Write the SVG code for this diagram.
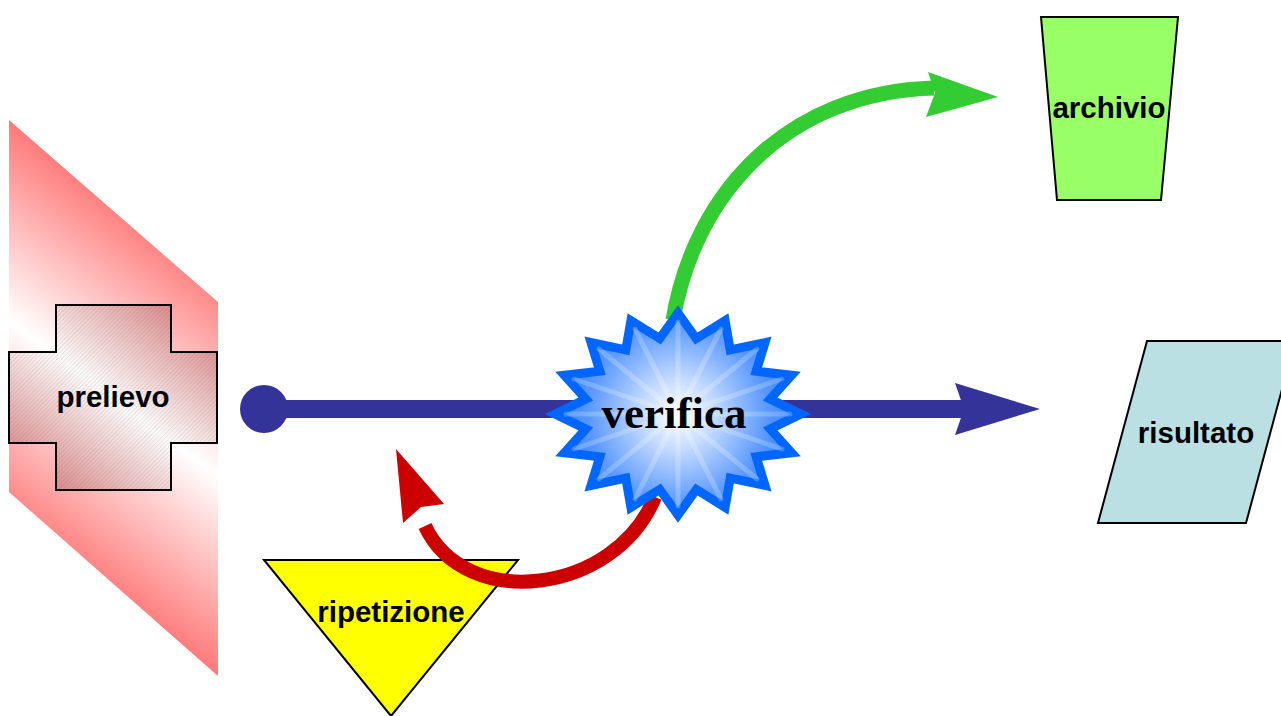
<svg xmlns="http://www.w3.org/2000/svg" width="1281" height="716" viewBox="0 0 1281 716">
  <defs>
    <linearGradient id="gradRedBand" gradientUnits="userSpaceOnUse" x1="215" y1="262" x2="12" y2="534">
      <stop offset="0" stop-color="#ff7272"/>
      <stop offset="0.5" stop-color="#ffffff"/>
      <stop offset="1" stop-color="#ff7272"/>
    </linearGradient>
    <linearGradient id="gradCross" gradientUnits="userSpaceOnUse" x1="190" y1="300" x2="36" y2="496">
      <stop offset="0" stop-color="#d67a7a"/>
      <stop offset="0.5" stop-color="#ffffff"/>
      <stop offset="1" stop-color="#d67a7a"/>
    </linearGradient>
    <pattern id="hatch" patternUnits="userSpaceOnUse" width="3" height="3" patternTransform="rotate(45)">
      <line x1="0" y1="0" x2="0" y2="3" stroke="#6a4a4a" stroke-width="1" stroke-opacity="0.3"/>
    </pattern>
    <radialGradient id="gradStar" cx="0" cy="0" r="120" gradientUnits="userSpaceOnUse">
      <stop offset="0" stop-color="#ffffff"/>
      <stop offset="0.3" stop-color="#c4daff"/>
      <stop offset="0.75" stop-color="#5898ff"/>
      <stop offset="1" stop-color="#2f7cff"/>
    </radialGradient>
    <style>
      .label { font-family: "Liberation Sans", Arial, sans-serif; font-weight: bold; font-size: 29.5px; fill: #000; text-anchor: middle; }
      .shape { stroke: #000; stroke-width: 2; }
    </style>
  </defs>

  <rect width="1281" height="716" fill="#ffffff"/>

  <!-- sampling stage: slanted band with cross -->
  <g id="prelievo">
    <polygon points="9,120 218,302 218,676 9,492" fill="url(#gradRedBand)"/>
    <path d="M56 305 H171 V352 H217 V443 H171 V490 H56 V443 H9 V352 H56 Z" fill="url(#gradCross)"/>
    <path class="shape" d="M56 305 H171 V352 H217 V443 H171 V490 H56 V443 H9 V352 H56 Z" fill="url(#hatch)"/>
    <text class="label" x="113" y="407">prelievo</text>
  </g>

  <!-- archive bin -->
  <g id="archivio">
    <polygon class="shape" points="1041,17 1178,17 1161,200 1057,200" fill="#99ff66"/>
    <text class="label" x="1109" y="118">archivio</text>
  </g>

  <!-- result record -->
  <g id="risultato">
    <polygon class="shape" points="1147,341 1295,341 1246,523 1098,523" fill="#bbe0e3"/>
    <text class="label" x="1196" y="443">risultato</text>
  </g>

  <!-- repeat triangle -->
  <g id="ripetizione">
    <polygon class="shape" points="264,560 518,560 391,716" fill="#ffff00"/>
    <text class="label" x="391" y="622">ripetizione</text>
  </g>

  <!-- connectors -->
  <g id="connectors">
    <!-- main flow -->
    <circle cx="264" cy="409" r="24" fill="#333399"/>
    <line x1="264" y1="409" x2="966" y2="409" stroke="#333399" stroke-width="18"/>
    <polygon points="955,383 1040,409 955,435 964,409" fill="#333399"/>
    <!-- to archive -->
    <path d="M673 320 C 695 190, 790 92, 934 88" fill="none" stroke="#33cc33" stroke-width="15"/>
    <polygon points="928,72 998,97 926,117 935,93" fill="#33cc33"/>
    <!-- back to repeat -->
    <path d="M655 497 C 615 595, 465 612, 425 526" fill="none" stroke="#cc0000" stroke-width="14"/>
    <polygon points="396,449 444,504 421,507 403,523" fill="#cc0000"/>
  </g>

  <!-- check burst -->
  <g id="verifica" transform="translate(678 414)">
    <polygon points="0,-101 18.3,-75.5 47.1,-93.3 52.2,-64 87,-71.4 78.2,-42.8 113.6,-38.7 92.2,-15 123,0 92.2,15 113.6,38.7 78.2,42.8 87,71.4 52.2,64 47.1,93.3 18.3,75.5 0,101 -18.3,75.5 -47.1,93.3 -52.2,64 -87,71.4 -78.2,42.8 -113.6,38.7 -92.2,15 -123,0 -92.2,-15 -113.6,-38.7 -78.2,-42.8 -87,-71.4 -52.2,-64 -47.1,-93.3 -18.3,-75.5" fill="url(#gradStar)" stroke="#0066ff" stroke-width="9"/>
    <g stroke="#ffffff" stroke-opacity="0.22" stroke-width="5" stroke-linecap="round">
      <line x1="0" y1="0" x2="0" y2="-92"/>
      <line x1="0" y1="0" x2="43" y2="-85"/>
      <line x1="0" y1="0" x2="79" y2="-65"/>
      <line x1="0" y1="0" x2="104" y2="-35"/>
      <line x1="0" y1="0" x2="112" y2="0"/>
      <line x1="0" y1="0" x2="104" y2="35"/>
      <line x1="0" y1="0" x2="79" y2="65"/>
      <line x1="0" y1="0" x2="43" y2="85"/>
      <line x1="0" y1="0" x2="0" y2="92"/>
      <line x1="0" y1="0" x2="-43" y2="85"/>
      <line x1="0" y1="0" x2="-79" y2="65"/>
      <line x1="0" y1="0" x2="-104" y2="35"/>
      <line x1="0" y1="0" x2="-112" y2="0"/>
      <line x1="0" y1="0" x2="-104" y2="-35"/>
      <line x1="0" y1="0" x2="-79" y2="-65"/>
      <line x1="0" y1="0" x2="-43" y2="-85"/>
    </g>
    <text x="-4" y="14" text-anchor="middle" font-family="'Liberation Serif', 'Times New Roman', serif" font-weight="bold" font-size="45" fill="#000">verifica</text>
  </g>
</svg>
